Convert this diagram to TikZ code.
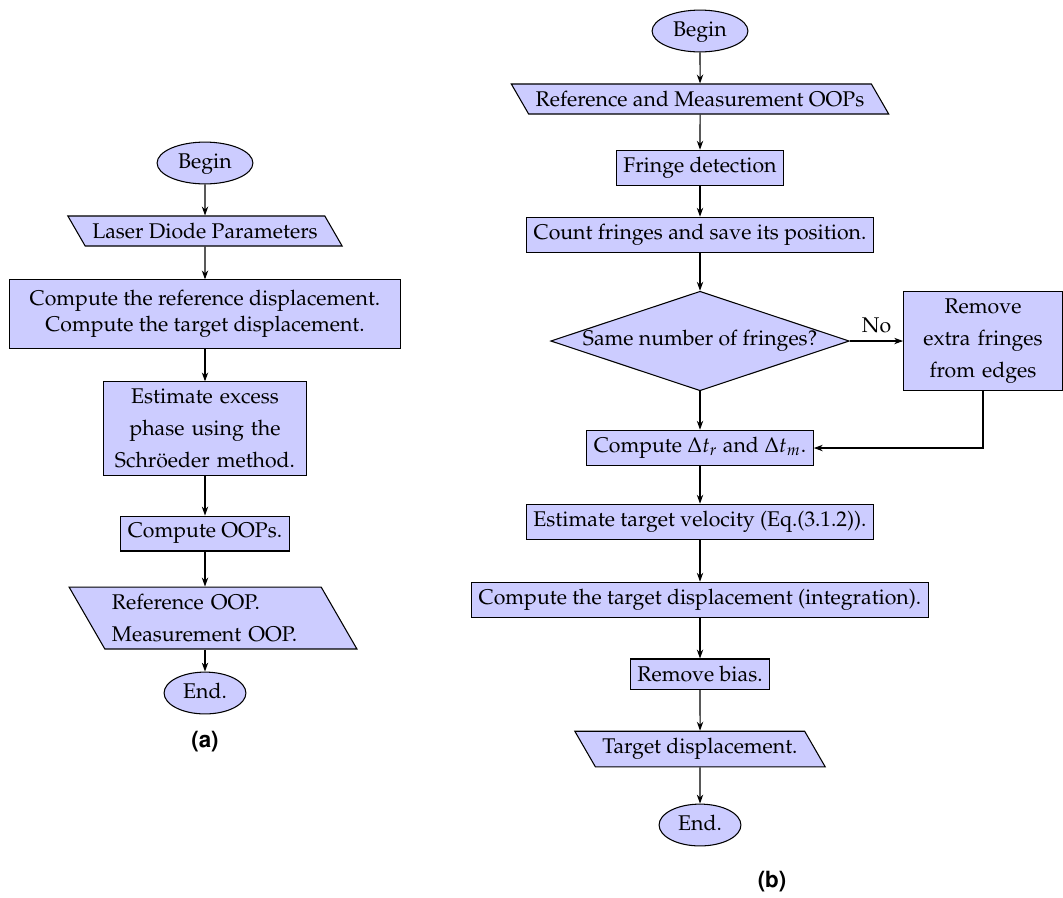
\documentclass[tikz,border=0pt]{standalone}
\usepackage[T1]{fontenc}
\usepackage{mathpazo}
\usepackage{helvet}
\usetikzlibrary{shapes.geometric,arrows.meta}
\begin{document}
\begin{tikzpicture}[x=0.47pt,y=-0.47pt, line width=0.5pt,
  every node/.style={font=\fontsize{10}{12}\selectfont},
  box/.style={draw, fill=blue!20, rectangle, align=center},
  term/.style={draw, fill=blue!20, ellipse, inner ysep=2.45pt, text height=7pt, text depth=2pt},
  io/.style={draw, fill=blue!20, trapezium, trapezium left angle=120, trapezium right angle=60},
  tw/.style={font=\fontsize{10}{12}\linespread{1.25}\selectfont},
  dia/.style={draw, fill=blue!20, diamond, aspect=3, inner sep=0pt, minimum width=137.7pt, minimum height=45.6pt},
  arr/.style={-{Stealth[length=4.2pt,width=3pt]}},
  sublabel/.style={font=\fontsize{10.5}{12}\sffamily\bfseries\selectfont}]
\useasboundingbox (0,0) rectangle (1063,897);

% left chart
\node[term] (b1) at (205,163) {Begin};
\node[io] (p1) at (205,231) {Laser Diode Parameters};
\node[box, inner xsep=9.4pt, inner ysep=5pt] (c1) at (205,314) {Compute the reference displacement.\\Compute the target displacement.};
\node[box, tw, text width=89pt] (c2) at (205,428.5) {Estimate excess phase using the Schr\"oeder method.};
\node[box] (c3) at (205,533.5) {Compute OOPs.};
\node[io, tw, text width=95pt, align=left] (p2) at (213,618) {Reference OOP.\\Measurement OOP.};
\node[term] (e1) at (205,693) {End.};
\node[sublabel] (la) at (205,742) {(a)};

\draw[arr] (b1) -- (p1);
\draw[arr] (p1) -- (c1);
\draw[arr] (c1) -- (c2);
\draw[arr] (c2) -- (c3);
\draw[arr] (c3.south) -- (c3.south |- p2.north);
\draw[arr] (e1 |- p2.south) -- (e1);

% right chart
\node[term] (b2) at (700,31) {Begin};
\node[io] (p3) at (700,99) {Reference and Measurement OOPs};
\node[box] (r1) at (700,168) {Fringe detection};
\node[box] (r2) at (700,235) {Count fringes and save its position.};
\node[dia] (d1) at (700,341) {Same number of fringes?};
\node[box, tw, text width=58pt, inner xsep=8.3pt] (r3) at (983,341) {Remove extra fringes from edges};
\node[box] (r4) at (700,448) {Compute $\Delta t_r$ and $\Delta t_m$.};
\node[box] (r5) at (700,522) {Estimate target velocity (Eq.(3.1.2)).};
\node[box] (r6) at (700,600) {Compute the target displacement (integration).};
\node[box] (r7) at (700,674) {Remove bias.};
\node[io] (p4) at (700,749) {Target displacement.};
\node[term] (e2) at (700,825) {End.};
\node[sublabel] (lb) at (772,882) {(b)};

\draw[arr] (b2) -- (p3);
\draw[arr] (p3) -- (r1);
\draw[arr] (r1) -- (r2);
\draw[arr] (r2) -- (d1);
\draw[arr] (d1) -- node[above] (no) {No} (r3);
\draw[arr] (d1) -- (r4);
\draw[arr] (r3) |- (r4);
\draw[arr] (r4) -- (r5);
\draw[arr] (r5) -- (r6);
\draw[arr] (r6) -- (r7);
\draw[arr] (r7) -- (p4);
\draw[arr] (p4) -- (e2);
\end{tikzpicture}
\end{document}
